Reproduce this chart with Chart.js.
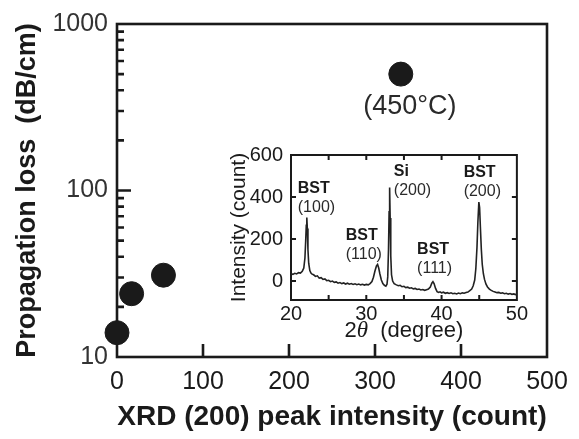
<!DOCTYPE html>
<html lang="en">
<head>
<meta charset="UTF-8">
<title>Propagation loss vs XRD (200) peak intensity</title>
<style>
  body { margin: 0; background: #fff; }
  .wrap { position: relative; width: 579px; height: 439px; }
  #lossChart { position: absolute; left: 0; top: 0; }
  #xrdChart { position: absolute; left: 215px; top: 135px; }
</style>
</head>
<body>
<div class="wrap">
  <canvas id="lossChart" width="579" height="439"></canvas>
  <canvas id="xrdChart" width="315" height="212"></canvas>
</div>

<script src="https://cdn.jsdelivr.net/npm/chart.js"></script>
<script>
// main plot: propagation loss against XRD (200) peak intensity
const peakIntensity = [0, 17, 54, 330];
const propLoss = [14, 24, 31, 500];
const lossNotes = ['', '', '', '(450°C)'];
const xTicks = [0, 100, 200, 300, 400, 500];
const yTicks = [10, 100, 1000];

// inset: XRD pattern
const twoTheta = [
  20.0, 20.25, 20.5, 20.75, 21.0, 21.25, 21.5, 21.7, 21.85, 21.95,
  22.03, 22.1, 22.17, 22.25, 22.35, 22.5, 22.65, 22.8, 23.0, 23.25,
  23.5, 23.75, 24.0, 24.25, 24.5, 24.75, 25.0, 25.25, 25.5, 25.75,
  26.0, 26.25, 26.5, 26.75, 27.0, 27.25, 27.5, 27.75, 28.0, 28.25,
  28.5, 28.75, 29.0, 29.25, 29.5, 29.75, 30.0, 30.25, 30.5, 30.75,
  30.95, 31.15, 31.35, 31.5, 31.65, 31.8, 32.0, 32.2, 32.4, 32.6,
  32.75, 32.85, 32.95, 33.03, 33.1, 33.17, 33.25, 33.35, 33.5, 33.7,
  34.0, 34.25, 34.5, 34.75, 35.0, 35.25, 35.5, 35.75, 36.0, 36.25,
  36.5, 36.75, 37.0, 37.25, 37.5, 37.75, 38.0, 38.25, 38.5, 38.7,
  38.85, 39.0, 39.2, 39.4, 39.6, 39.8, 40.0, 40.25, 40.5, 40.75,
  41.0, 41.25, 41.5, 41.75, 42.0, 42.25, 42.5, 42.75, 43.0, 43.25,
  43.5, 43.75, 44.0, 44.2, 44.4, 44.55, 44.7, 44.82, 44.95, 45.05,
  45.15, 45.28, 45.4, 45.55, 45.7, 45.9, 46.1, 46.35, 46.6, 46.85,
  47.1, 47.35, 47.6, 47.85, 48.1, 48.35, 48.6, 48.85, 49.1, 49.35,
  49.6, 49.8, 50.0
];
const counts = [
  36, 32, 37, 34, 40, 38, 47, 62, 110, 190,
  265, 303, 250, 150, 85, 50, 38, 33, 30, 22,
  25, 14, 16, 8, 10, 2, 4, -3, 0, -6,
  -4, -10, -7, -12, -9, -14, -10, -15, -12, -16,
  -13, -17, -14, -18, -15, -19, -16, -18, -12, -2,
  18, 48, 72, 79, 62, 35, 5, -12, -20, -24,
  -15, 20, 150, 330, 445, 300, 120, 30, 0, -12,
  -18, -22, -20, -27, -25, -31, -29, -34, -32, -37,
  -35, -40, -38, -42, -40, -44, -41, -38, -28, -10,
  -3, -12, -35, -50, -54, -51, -56, -53, -58, -55,
  -59, -56, -60, -58, -61, -57, -60, -56, -58, -54,
  -52, -45, -38, -22, 5, 60, 160, 280, 376, 350,
  260, 150, 80, 35, 8, -15, -28, -38, -44, -49,
  -52, -55, -54, -58, -56, -60, -58, -62, -59, -63,
  -61, -64, -62
];
const thetaTicks = [20, 30, 40, 50];
const thetaMinor = [25, 30, 35, 40, 45];
const countTicks = [0, 200, 400, 600];
const peakNames = ['BST', 'BST', 'Si', 'BST', 'BST'];
const peakPlanes = ['(100)', '(110)', '(200)', '(111)', '(200)'];

// where each peak label sits, in data units (left edge, first line)
const peakLabelAt = [[20.9, 441], [27.27, 218], [33.66, 523], [36.75, 150], [42.93, 518]];

const FONT = '"Liberation Sans", Arial, Helvetica, sans-serif';
const INK = '#1a1a1a';

const lossFrame = {
  id: 'lossFrame',
  beforeDatasetsDraw(chart) {
    const {ctx, chartArea: a, scales: {x, y}} = chart;
    ctx.save();
    ctx.strokeStyle = INK;
    ctx.lineWidth = 2.6;
    ctx.strokeRect(a.left, a.top, a.right - a.left, a.bottom - a.top);
    ctx.beginPath();
    xTicks.slice(1, -1).forEach(v => {
      const px = x.getPixelForValue(v);
      ctx.moveTo(px, a.bottom);
      ctx.lineTo(px, a.bottom - 13);
    });
    yTicks.slice(1, -1).forEach(v => {
      const py = y.getPixelForValue(v);
      ctx.moveTo(a.left, py);
      ctx.lineTo(a.left + 14, py);
    });
    [10, 100].forEach(d => {
      for (let m = 2; m <= 9; m++) {
        const py = y.getPixelForValue(d * m);
        ctx.moveTo(a.left, py);
        ctx.lineTo(a.left + 7, py);
      }
    });
    ctx.stroke();
    ctx.restore();
  },
  afterDatasetsDraw(chart) {
    const {ctx} = chart;
    const pts = chart.getDatasetMeta(0).data;
    ctx.save();
    ctx.fillStyle = '#2a2a2a';
    ctx.font = '27px ' + FONT;
    ctx.textAlign = 'center';
    ctx.textBaseline = 'middle';
    lossNotes.forEach((t, i) => {
      if (t) ctx.fillText(t, pts[i].x + 9, pts[i].y + 32);
    });
    ctx.restore();
  }
};

new Chart(document.getElementById('lossChart'), {
  type: 'scatter',
  data: {
    datasets: [{
      data: peakIntensity.map((v, i) => ({x: v, y: propLoss[i]})),
      backgroundColor: INK,
      borderColor: INK,
      pointRadius: 12,
      pointHoverRadius: 12,
      clip: false
    }]
  },
  options: {
    responsive: false,
    animation: false,
    devicePixelRatio: 1,
    layout: {padding: {top: 14, right: 32, left: 0, bottom: 0}},
    plugins: {legend: {display: false}, tooltip: {enabled: false}},
    scales: {
      x: {
        type: 'linear', min: 0, max: 500,
        border: {display: false},
        grid: {display: false, drawTicks: false},
        afterBuildTicks: s => { s.ticks = xTicks.map(v => ({value: v})); },
        afterFit: s => { s.height = 82; },
        ticks: {font: {family: FONT, size: 25}, color: INK, padding: 10, maxRotation: 0, autoSkip: false},
        title: {
          display: true, text: 'XRD (200) peak intensity (count)', color: INK,
          font: {family: FONT, size: 28, weight: 'bold'}, padding: {top: 0, bottom: 5}
        }
      },
      y: {
        type: 'logarithmic', min: 10, max: 1000,
        border: {display: false},
        grid: {display: false, drawTicks: false},
        afterBuildTicks: s => { s.ticks = yTicks.map(v => ({value: v})); },
        afterFit: s => { s.width = 117; },
        ticks: {font: {family: FONT, size: 25}, color: '#333', padding: 9, callback: v => String(v)},
        title: {
          display: true, text: 'Propagation loss  (dB/cm)', color: INK,
          font: {family: FONT, size: 27, weight: 'bold'}, padding: {top: 11, bottom: 0}
        }
      }
    }
  },
  plugins: [lossFrame]
});

// inset frame, ticks on all four sides, x title and peak labels
const xrdFrame = {
  id: 'xrdFrame',
  beforeDatasetsDraw(chart) {
    const {ctx, chartArea: a, scales: {x, y}} = chart;
    ctx.save();
    ctx.strokeStyle = INK;
    ctx.lineWidth = 2;
    ctx.strokeRect(a.left, a.top, a.right - a.left, a.bottom - a.top);
    ctx.beginPath();
    thetaMinor.forEach(v => {
      const px = x.getPixelForValue(v);
      ctx.moveTo(px, a.bottom); ctx.lineTo(px, a.bottom - 5);
      ctx.moveTo(px, a.top); ctx.lineTo(px, a.top + 5);
    });
    countTicks.slice(0, -1).forEach(v => {
      const py = y.getPixelForValue(v);
      ctx.moveTo(a.left, py); ctx.lineTo(a.left + 5, py);
      ctx.moveTo(a.right, py); ctx.lineTo(a.right - 5, py);
    });
    ctx.stroke();
    ctx.restore();
  },
  afterDraw(chart) {
    const {ctx, chartArea: a, scales: {x, y}} = chart;
    ctx.save();
    ctx.fillStyle = INK;
    ctx.textBaseline = 'middle';

    // 2θ (degree), with an italic theta
    const parts = [
      ['2', '22px ' + FONT],
      ['\u03b8', 'italic 23px "Liberation Serif", "Times New Roman", serif'],
      ['  (degree)', '22px ' + FONT]
    ];
    let total = 0;
    parts.forEach(p => { ctx.font = p[1]; total += ctx.measureText(p[0]).width; });
    let cx = (a.left + a.right) / 2 - total / 2;
    ctx.textAlign = 'left';
    parts.forEach(p => {
      ctx.font = p[1];
      ctx.fillText(p[0], cx, 196);
      cx += ctx.measureText(p[0]).width;
    });

    // peak labels
    peakNames.forEach((name, i) => {
      const px = x.getPixelForValue(peakLabelAt[i][0]);
      const py = y.getPixelForValue(peakLabelAt[i][1]);
      ctx.font = 'bold 16px ' + FONT;
      ctx.fillStyle = INK;
      ctx.fillText(name, px, py);
      ctx.font = '16px ' + FONT;
      ctx.fillStyle = '#2a2a2a';
      ctx.fillText(peakPlanes[i], px, py + 19);
    });
    ctx.restore();
  }
};

new Chart(document.getElementById('xrdChart'), {
  type: 'scatter',
  data: {
    datasets: [{
      data: twoTheta.map((v, i) => ({x: v, y: counts[i]})),
      showLine: true,
      borderColor: '#222',
      borderWidth: 1.6,
      pointRadius: 0,
      tension: 0
    }]
  },
  options: {
    responsive: false,
    animation: false,
    devicePixelRatio: 1,
    layout: {padding: {top: 13, right: 7, left: 0, bottom: 0}},
    plugins: {legend: {display: false}, tooltip: {enabled: false}},
    scales: {
      x: {
        type: 'linear', min: 20, max: 50,
        border: {display: false},
        grid: {display: false, drawTicks: false},
        afterBuildTicks: s => { s.ticks = thetaTicks.map(v => ({value: v})); },
        afterFit: s => { s.height = 47; },
        ticks: {font: {family: FONT, size: 20}, color: INK, padding: 2, maxRotation: 0, autoSkip: false}
      },
      y: {
        type: 'linear', min: -90, max: 600,
        border: {display: false},
        grid: {display: false, drawTicks: false},
        afterBuildTicks: s => { s.ticks = countTicks.map(v => ({value: v})); },
        afterFit: s => { s.width = 76; },
        ticks: {font: {family: FONT, size: 20}, color: INK, padding: 8},
        title: {
          display: true, text: 'Intensity (count)', color: INK,
          font: {family: FONT, size: 21}, padding: {top: 12, bottom: 0}
        }
      }
    }
  },
  plugins: [xrdFrame]
});
</script>
</body>
</html>
